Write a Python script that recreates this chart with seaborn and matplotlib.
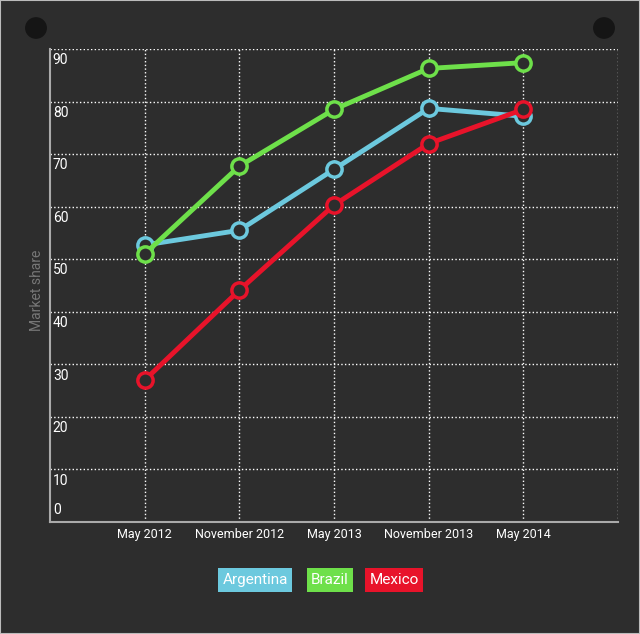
import matplotlib
matplotlib.use("Agg")
import matplotlib.pyplot as plt
import seaborn as sns
import pandas as pd
from matplotlib.patches import Circle

periods = ["May 2012", "November 2012", "May 2013", "November 2013", "May 2014"]
argentina = [52.7, 55.5, 67.1, 78.7, 77.2]
brazil = [51.0, 67.7, 78.5, 86.3, 87.4]
mexico = [27.0, 44.1, 60.3, 72.0, 78.5]
countries = ["Argentina", "Brazil", "Mexico"]
colors = ["#6cc9de", "#6ee04a", "#e8132a"]
yticks = [0, 10, 20, 30, 40, 50, 60, 70, 80, 90]

bg = "#2d2d2d"
sns.set_style("dark")
plt.rcParams["font.family"] = ["Roboto", "DejaVu Sans"]

df = pd.DataFrame({"period": periods * 3,
                   "x": list(range(len(periods))) * 3,
                   "share": argentina + brazil + mexico,
                   "country": [c for c in countries for _ in periods]})

fig = plt.figure(figsize=(6.4, 6.34), dpi=100, facecolor=bg)
fig.patches.append(plt.Rectangle((0, 0), 1, 1, transform=fig.transFigure,
                                 fill=False, edgecolor="#bbbbbb", lw=1.5))
for cx in (36 / 640, 604 / 640):
    fig.patches.append(Circle((cx, 1 - 28 / 634), 0.016, transform=fig.transFigure,
                              color="#151515"))

ax = fig.add_axes([50 / 640, 1 - 522 / 634, 568 / 640, 473 / 634])
ax.set_facecolor(bg)
sns.lineplot(data=df, x="x", y="share", hue="country", palette=colors,
             linewidth=3.5, marker="o", markersize=11, markeredgewidth=2.5,
             markerfacecolor=bg, legend=False, ax=ax)
for line, c in zip(ax.lines, colors):
    line.set_markeredgecolor(c)

ax.set_xlim(-1, 5)
ax.set_ylim(0, 90)
ax.set_xticks(range(len(periods)))
ax.set_xticklabels(periods, color="white", fontsize=9)
ax.set_yticks(yticks)
ax.set_yticklabels([])
ax.tick_params(length=0, pad=4)
ax.grid(True, color="white", linestyle=":", linewidth=1)
ax.axvline(5, color="white", linestyle=":", linewidth=1)
for s in ["top", "right"]:
    ax.spines[s].set_visible(False)
for s in ["left", "bottom"]:
    ax.spines[s].set_color("#aaaaaa")
    ax.spines[s].set_linewidth(1.5)
ax.set_xlabel("")
ax.set_ylabel("")
for v in yticks:
    ax.text(-0.97, v + (1.0 if v == 0 else -0.8), str(v), color="white", fontsize=10,
            va="bottom" if v == 0 else "top", ha="left")
fig.text(37 / 640, 1 - 290 / 634, "Market share", rotation=90, color="#777777",
         fontsize=10, ha="center", va="center")

lx = [255 / 640, 330 / 640, 394 / 640]
for x, name, c in zip(lx, countries, colors):
    fig.text(x, 1 - 580 / 634, name, color="white", fontsize=11, ha="center", va="center",
             bbox=dict(boxstyle="square,pad=0.3", facecolor=c, edgecolor="none"))

fig.savefig("out.png", dpi=100, facecolor=bg)
